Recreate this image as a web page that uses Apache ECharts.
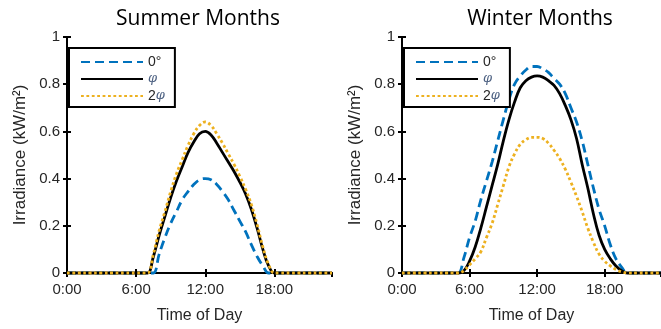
<!DOCTYPE html>
<html>
<head>
<meta charset="utf-8">
<script src="https://cdn.jsdelivr.net/npm/echarts@6/dist/echarts.min.js"></script>
<style>
html, body { margin: 0; padding: 0; background: #fff; }
#chart { width: 661px; height: 329px; }
</style>
</head>
<body>
<div id="chart"></div>
<script>
// hour of day, denser around daylight
let hours = [0, 1, 2, 3, 4, 4.5, 5, 5.5, 6, 6.5, 7, 7.5, 8, 8.5, 9, 9.5, 10, 10.5, 11, 11.5,
    12, 12.5, 13, 13.5, 14, 14.5, 15, 15.5, 16, 16.5, 17, 17.5, 18, 18.5, 19, 19.5, 20, 21, 22, 23];

// summer, kW/m2
let summer_0 = [0, 0, 0, 0, 0, 0, 0, 0, 0, 0, 0, 0, 0.08, 0.15, 0.21, 0.26, 0.31, 0.345, 0.375, 0.395,
    0.40, 0.395, 0.375, 0.345, 0.31, 0.265, 0.22, 0.175, 0.12, 0.07, 0.03, 0, 0, 0, 0, 0, 0, 0, 0, 0];
let summer_phi = [0, 0, 0, 0, 0, 0, 0, 0, 0, 0, 0, 0.07, 0.16, 0.24, 0.32, 0.39, 0.45, 0.51, 0.555, 0.59,
    0.60, 0.585, 0.55, 0.51, 0.47, 0.43, 0.385, 0.335, 0.27, 0.19, 0.10, 0.03, 0, 0, 0, 0, 0, 0, 0, 0];
let summer_2phi = [0, 0, 0, 0, 0, 0, 0, 0, 0, 0, 0, 0.08, 0.18, 0.26, 0.345, 0.42, 0.48, 0.54, 0.59, 0.625,
    0.64, 0.625, 0.59, 0.55, 0.505, 0.46, 0.41, 0.355, 0.29, 0.205, 0.11, 0.035, 0, 0, 0, 0, 0, 0, 0, 0];

// winter, kW/m2
let winter_0 = [0, 0, 0, 0, 0, 0, 0, 0.065, 0.15, 0.22, 0.31, 0.39, 0.47, 0.56, 0.65, 0.735, 0.80, 0.835, 0.86, 0.875,
    0.875, 0.865, 0.85, 0.825, 0.80, 0.76, 0.70, 0.64, 0.56, 0.46, 0.36, 0.27, 0.20, 0.12, 0.06, 0.025, 0, 0, 0, 0];
let winter_phi = [0, 0, 0, 0, 0, 0, 0, 0.01, 0.05, 0.11, 0.19, 0.28, 0.37, 0.46, 0.56, 0.65, 0.725, 0.785, 0.815, 0.83,
    0.835, 0.83, 0.815, 0.795, 0.76, 0.71, 0.65, 0.57, 0.46, 0.36, 0.25, 0.16, 0.10, 0.06, 0.03, 0.01, 0, 0, 0, 0];
let winter_2phi = [0, 0, 0, 0, 0, 0, 0, 0.01, 0.035, 0.06, 0.09, 0.15, 0.21, 0.29, 0.37, 0.45, 0.505, 0.545, 0.565, 0.575,
    0.575, 0.57, 0.55, 0.52, 0.485, 0.44, 0.385, 0.325, 0.26, 0.19, 0.13, 0.08, 0.05, 0.03, 0.015, 0.005, 0, 0, 0, 0];

let names = ['0°', 'φ', '2φ'];
let titles = ['Summer Months', 'Winter Months'];
let xticks = [0, 6, 12, 18];

let chart = echarts.init(document.getElementById('chart'));

function pairs(vals) {
    return hours.map((h, i) => [h, vals[i]]);
}

let tickFont = { fontFamily: 'Liberation Sans', fontSize: 15, color: '#262626' };
let grids = [{ left: 67, top: 37, width: 265, height: 237 },
             { left: 402, top: 37, width: 265, height: 237 }];

let xAxis = [], yAxis = [];
[0, 1].forEach(g => {
    xAxis.push({
        type: 'value', gridIndex: g, min: 0, max: 23, interval: 6,
        name: 'Time of Day', nameLocation: 'middle', nameGap: 35,
        nameTextStyle: { fontFamily: 'Liberation Sans', fontSize: 16, color: '#262626' },
        axisLine: { lineStyle: { color: '#000', width: 2 } },
        axisTick: { inside: true, length: 4, lineStyle: { color: '#000', width: 2 } },
        axisLabel: Object.assign({ margin: 9, showMaxLabel: false,
            formatter: v => xticks.indexOf(v) >= 0 ? v + ':00' : '' }, tickFont),
        splitLine: { show: false }
    });
    xAxis.push({
        type: 'value', gridIndex: g, position: 'top', min: 0, max: 23, interval: 6,
        axisLine: { lineStyle: { color: '#000', width: 2 } },
        axisTick: { inside: true, length: 4, lineStyle: { color: '#000', width: 2 } },
        axisLabel: { show: false }, splitLine: { show: false }
    });
    yAxis.push({
        type: 'value', gridIndex: g, min: 0, max: 1, interval: 0.2,
        name: 'Irradiance (kW/m²)', nameLocation: 'middle', nameGap: 38,
        nameTextStyle: { fontFamily: 'Liberation Sans', fontSize: 17, color: '#262626' },
        axisLine: { show: true, lineStyle: { color: '#000', width: 2 } },
        axisTick: { show: true, inside: true, length: 4, lineStyle: { color: '#000', width: 2 } },
        axisLabel: Object.assign({ margin: 7 }, tickFont),
        splitLine: { show: false }
    });
    yAxis.push({
        type: 'value', gridIndex: g, position: 'right', min: 0, max: 1, interval: 0.2,
        axisLine: { show: true, lineStyle: { color: '#000', width: 2 } },
        axisTick: { show: true, inside: true, length: 4, lineStyle: { color: '#000', width: 2 } },
        axisLabel: { show: false }, splitLine: { show: false }
    });
});

let styles = [
    { color: '#0072BD', width: 2.8, type: [9, 5] },
    { color: '#000000', width: 2.8, type: 'solid' },
    { color: '#EDB120', width: 2.8, type: [2.8, 2.6] }
];
let seasons = [[summer_0, summer_phi, summer_2phi], [winter_0, winter_phi, winter_2phi]];

let series = [];
seasons.forEach((set, g) => {
    set.forEach((vals, k) => {
        series.push({
            name: names[k], type: 'line', xAxisIndex: g * 2, yAxisIndex: g * 2,
            data: pairs(vals), smooth: 0.4, showSymbol: false, symbol: 'none',
            clip: false, lineStyle: styles[k], itemStyle: { color: styles[k].color },
            z: 3 + k, silent: true
        });
    });
});

let legends = [69, 404].map(x => ({
    left: x, top: 48, orient: 'vertical',
    itemWidth: 62, itemHeight: 14, itemGap: 3.5,
    padding: [7, 10, 4, 11],
    backgroundColor: '#fff', borderColor: '#000', borderWidth: 2, borderRadius: 0,
    data: names,
    itemStyle: { opacity: 0 },
    formatter: n => n.replace('φ', '{p|φ}'),
    textStyle: { fontFamily: 'Liberation Sans', fontSize: 14, color: '#262626',
        rich: { p: { fontFamily: 'DejaVu Serif', fontStyle: 'italic', fontSize: 13, color: '#4d6182' } } }
}));

let option = {
    animation: false,
    title: titles.map((t, i) => ({
        text: t, left: [198, 540][i], top: 9, textAlign: 'center', padding: 0,
        textStyle: { fontFamily: 'Open Sans', fontSize: 21, fontWeight: 'normal', color: '#000' }
    })),
    grid: grids,
    xAxis: xAxis,
    yAxis: yAxis,
    legend: legends,
    series: series
};

chart.setOption(option);
</script>
</body>
</html>
